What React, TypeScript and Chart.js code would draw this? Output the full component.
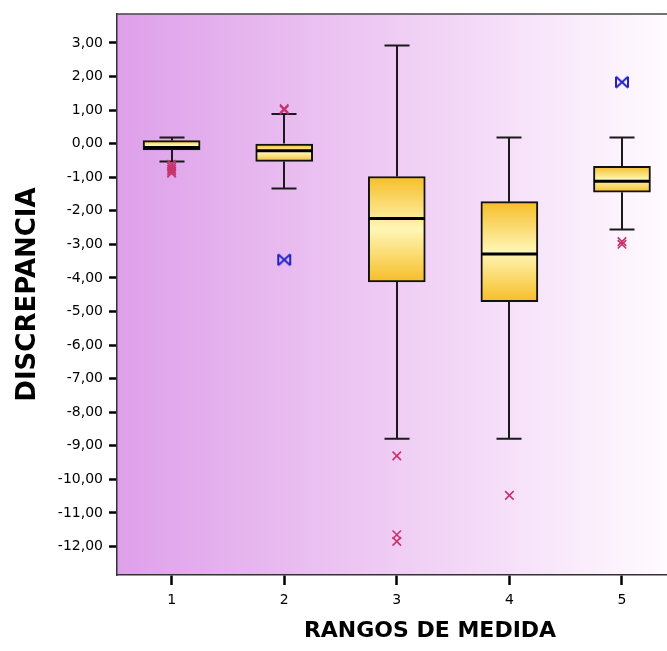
import React, { useEffect, useRef } from "react";
import { Chart, registerables } from "chart.js";

Chart.register(...registerables);

const categories = [1, 2, 3, 4, 5];
const whiskerLow = [-0.53, -1.34, -8.79, -8.79, -2.56];
const q1 = [-0.19, -0.53, -4.12, -4.71, -1.45];
const median = [-0.12, -0.21, -2.23, -3.29, -1.12];
const q3 = [0.09, 0.0, -0.98, -1.73, -0.68];
const whiskerHigh = [0.18, 0.88, 2.92, 0.18, 0.18];
const outliers = [
  [-0.62, -0.7, -0.76, -0.82, -0.88],
  [1.0, 1.04],
  [-9.3, -11.65, -11.85],
  [-10.48],
  [-2.92, -3.0],
];
const extremes = [[], [-3.46], [], [], [1.83]];
const yTicks = [3, 2, 1, 0, -1, -2, -3, -4, -5, -6, -7, -8, -9, -10, -11, -12];
const xTitle = "RANGOS DE MEDIDA";
const yTitle = "DISCREPANCIA";

function makeBowtie(): HTMLCanvasElement {
  const c = document.createElement("canvas");
  c.width = 16;
  c.height = 15;
  const g = c.getContext("2d")!;
  g.strokeStyle = "#2222C8";
  g.lineWidth = 2;
  g.beginPath();
  g.moveTo(2, 2);
  g.lineTo(2, 13);
  g.moveTo(14, 2);
  g.lineTo(14, 13);
  g.moveTo(2, 2);
  g.lineTo(14, 13);
  g.moveTo(2, 13);
  g.lineTo(14, 2);
  g.stroke();
  return c;
}

export default function App() {
  const ref = useRef<HTMLCanvasElement | null>(null);

  useEffect(() => {
    if (!ref.current) return;
    const bowtie = makeBowtie();

    const bgPlugin = {
      id: "bg",
      beforeDraw(chart: any) {
        const { ctx, chartArea } = chart;
        const g = ctx.createLinearGradient(chartArea.left, 0, chartArea.right, 0);
        g.addColorStop(0, "rgb(222,160,234)");
        g.addColorStop(0.5, "rgb(239,204,244)");
        g.addColorStop(1, "rgb(255,251,255)");
        ctx.save();
        ctx.fillStyle = g;
        ctx.fillRect(chartArea.left, chartArea.top, chartArea.right - chartArea.left, chartArea.bottom - chartArea.top);
        ctx.restore();
      },
      afterDraw(chart: any) {
        const { ctx, chartArea } = chart;
        ctx.save();
        ctx.strokeStyle = "#444";
        ctx.lineWidth = 1.5;
        ctx.beginPath();
        ctx.moveTo(chartArea.left, chartArea.top);
        ctx.lineTo(chartArea.right, chartArea.top);
        ctx.stroke();
        ctx.fillStyle = "#000";
        ctx.font = "bold 22px 'DejaVu Sans'";
        ctx.textAlign = "center";
        ctx.textBaseline = "alphabetic";
        ctx.fillText(xTitle, 430, 637);
        ctx.restore();
      },
    };

    const boxPlugin = {
      id: "boxparts",
      beforeDatasetsDraw(chart: any) {
        const { ctx } = chart;
        const xs = chart.scales.x;
        const ys = chart.scales.y;
        ctx.save();
        ctx.strokeStyle = "#1a1a1a";
        ctx.lineWidth = 2;
        categories.forEach((c, i) => {
          const x = Math.round(xs.getPixelForValue(c));
          const yHi = ys.getPixelForValue(whiskerHigh[i]);
          const yQ3 = ys.getPixelForValue(q3[i]);
          const yQ1 = ys.getPixelForValue(q1[i]);
          const yLo = ys.getPixelForValue(whiskerLow[i]);
          ctx.beginPath();
          ctx.moveTo(x, yHi);
          ctx.lineTo(x, yQ3);
          ctx.moveTo(x, yQ1);
          ctx.lineTo(x, yLo);
          ctx.moveTo(x - 12.5, yHi);
          ctx.lineTo(x + 12.5, yHi);
          ctx.moveTo(x - 12.5, yLo);
          ctx.lineTo(x + 12.5, yLo);
          ctx.stroke();
        });
        ctx.restore();
      },
      afterDatasetDraw(chart: any, args: any) {
        if (args.index !== 0) return;
        const { ctx } = chart;
        const xs = chart.scales.x;
        const ys = chart.scales.y;
        ctx.save();
        ctx.strokeStyle = "#000";
        ctx.lineWidth = 3;
        categories.forEach((c, i) => {
          const x = xs.getPixelForValue(c);
          const y = ys.getPixelForValue(median[i]);
          ctx.beginPath();
          ctx.moveTo(x - 28, y);
          ctx.lineTo(x + 28, y);
          ctx.stroke();
        });
        ctx.restore();
      },
    };

    const outlierData: { x: number; y: number }[] = [];
    outliers.forEach((arr, i) => arr.forEach((v) => outlierData.push({ x: categories[i], y: v })));
    const extremeData: { x: number; y: number }[] = [];
    extremes.forEach((arr, i) => arr.forEach((v) => extremeData.push({ x: categories[i], y: v })));

    const chart = new Chart(ref.current, {
      type: "bar",
      data: {
        datasets: [
          {
            type: "bar",
            data: categories.map((c, i) => ({ x: c, y: [q1[i], q3[i]] })) as any,
            barThickness: 57,
            grouped: false,
            borderColor: "#111",
            borderWidth: 2,
            borderSkipped: false,
            backgroundColor: (ctx: any) => {
              const chart = ctx.chart;
              const ys = chart.scales && chart.scales.y;
              if (!ys || ctx.type !== "data") return "#F7C530";
              const i = ctx.dataIndex;
              const top = ys.getPixelForValue(q3[i]);
              const bot = ys.getPixelForValue(q1[i]);
              if (!isFinite(top) || !isFinite(bot) || top === bot) return "#F7C530";
              const g = chart.ctx.createLinearGradient(0, top, 0, bot);
              g.addColorStop(0, "#F6BE28");
              g.addColorStop(0.5, "#FFF6B6");
              g.addColorStop(1, "#F6BE28");
              return g;
            },
          } as any,
          {
            type: "scatter",
            data: outlierData,
            pointStyle: "crossRot",
            pointRadius: 6,
            borderWidth: 1.6,
            borderColor: "#C8336E",
            backgroundColor: "#C8336E",
          } as any,
          {
            type: "scatter",
            data: extremeData,
            pointStyle: bowtie,
            pointRadius: 8,
          } as any,
        ],
      },
      options: {
        animation: false,
        responsive: false,
        layout: { autoPadding: false, padding: { top: 14, right: 0, left: 0, bottom: 0 } },
        plugins: { legend: { display: false }, tooltip: { enabled: false } },
        scales: {
          x: {
            type: "linear",
            min: 0.515,
            max: 5.4,
            offset: false,
            afterBuildTicks: (s: any) => {
              s.ticks = categories.map((v) => ({ value: v }));
            },
            afterFit: (s: any) => {
              s.height = 76;
              s.paddingRight = 0;
              s.paddingLeft = 0;
            },
            ticks: {
              color: "#000",
              font: { family: "'DejaVu Sans'", size: 14 },
              padding: 7,
              autoSkip: false,
              maxRotation: 0,
              callback: (v: any) => String(v),
            },
            grid: { offset: false, drawOnChartArea: false, tickLength: 10, tickWidth: 2.5, tickColor: "#000" },
            border: { display: true, color: "#333", width: 1.5 },
          },
          y: {
            type: "linear",
            min: -12.85,
            max: 3.86,
            afterBuildTicks: (s: any) => {
              s.ticks = yTicks.map((v) => ({ value: v }));
            },
            afterFit: (s: any) => {
              s.width = 117;
              s.paddingTop = 0;
              s.paddingBottom = 0;
            },
            ticks: {
              color: "#000",
              font: { family: "'DejaVu Sans'", size: 14 },
              padding: 6,
              autoSkip: false,
              callback: (v: any) => Number(v).toFixed(2).replace(".", ","),
            },
            grid: { drawOnChartArea: false, tickLength: 8, tickWidth: 2.5, tickColor: "#000" },
            border: { display: true, color: "#333", width: 1.5 },
            title: {
              display: true,
              text: yTitle,
              color: "#000",
              font: { family: "'DejaVu Sans'", size: 26, weight: "bold" },
              padding: { top: 13, bottom: 0 },
            },
          },
        },
      },
      plugins: [bgPlugin, boxPlugin],
    });
    return () => chart.destroy();
  }, []);

  return (
    <div style={{ position: "fixed", left: 0, top: 0, width: 667, height: 651, background: "#fff" }}>
      <canvas ref={ref} width={667} height={651} style={{ display: "block" }} />
    </div>
  );
}
